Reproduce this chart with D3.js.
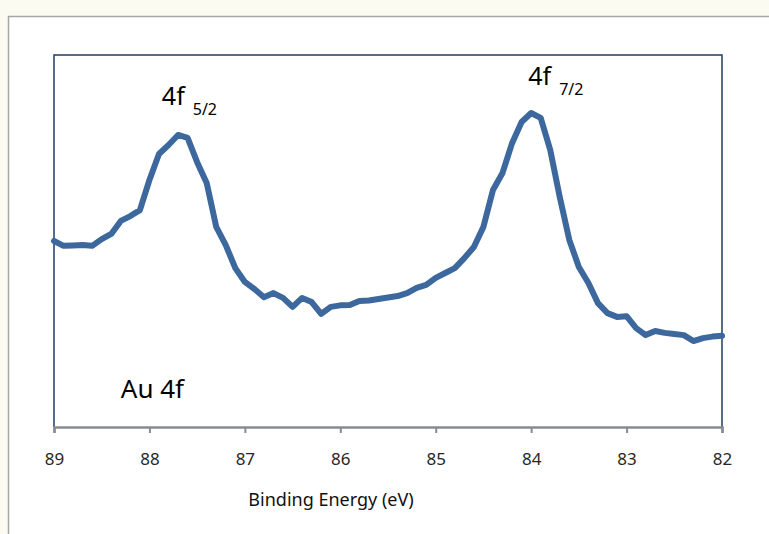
<!DOCTYPE html>
<html>
<head>
<meta charset="utf-8">
<script src="https://cdn.jsdelivr.net/npm/d3@7"></script>
<style>
  html, body { margin: 0; padding: 0; background: #ffffff; }
  svg { display: block; }
  text { font-family: "Noto Sans", "Open Sans", sans-serif; }
</style>
</head>
<body>
<svg id="chart" width="769" height="534"></svg>
<script>
// Binding energy (eV), 0.1 eV steps from 89.0 down to 82.0
const energies = d3.range(0, 71).map(i => +(89 - i * 0.1).toFixed(1));
// Intensity (arbitrary units)
const intensity = [
  50.0, 48.7, 48.8, 48.9, 48.7, 50.5, 51.9, 55.4, 56.7, 58.3,
  66.4, 73.4, 75.8, 78.5, 77.7, 71.2, 65.6, 53.8, 48.9, 42.7,
  39.0, 37.1, 34.9, 36.0, 34.7, 32.3, 34.7, 33.6, 30.4, 32.3,
  32.7, 32.8, 33.9, 34.0, 34.4, 34.8, 35.2, 36.0, 37.4, 38.2,
  40.1, 41.4, 42.7, 45.4, 48.4, 53.8, 63.7, 68.3, 76.3, 82.0,
  84.4, 83.1, 74.5, 61.8, 50.3, 43.0, 38.7, 33.3, 30.6, 29.6,
  29.8, 26.6, 24.7, 25.8, 25.3, 25.0, 24.7, 23.1, 23.9, 24.3,
  24.5
];
const xTicks = [89, 88, 87, 86, 85, 84, 83, 82];
const xTitle = "Binding Energy (eV)";
const peakLabels = [
  { main: "4f", sub: "5/2", e: 87.87, v: 86.6 },
  { main: "4f", sub: "7/2", e: 84.03, v: 91.9 }
];
const sampleLabel = { text: "Au 4f", e: 88.3, v: 7.7 };

const svg = d3.select("#chart");
const W = 769, H = 534;
const m = { left: 54, right: 722, top: 55, bottom: 427 };

// faint page tint outside the chart frame
svg.append("rect").attr("x", 0).attr("y", 0).attr("width", W).attr("height", H).attr("fill", "#fcfbf1");
svg.append("rect").attr("x", 8).attr("y", 16).attr("width", W - 8).attr("height", H - 16).attr("fill", "#ffffff");
// outer frame
svg.append("path")
  .attr("d", `M8.5,${H} L8.5,16.5 L${W},16.5`)
  .attr("fill", "none").attr("stroke", "#a6a6a6").attr("stroke-width", 1.5);

const x = d3.scaleLinear().domain([89, 82]).range([m.left, m.right]);
const y = d3.scaleLinear().domain([0, 100]).range([m.bottom, m.top]);

// plot border (left, top, right)
svg.append("path")
  .attr("d", `M${m.left},${m.bottom} L${m.left},${m.top} L${m.right},${m.top} L${m.right},${m.bottom}`)
  .attr("fill", "none").attr("stroke", "#1f3d66").attr("stroke-width", 1.5);

// x axis
const xAxis = d3.axisBottom(x).tickValues(xTicks).tickFormat(d3.format("d")).tickSize(6).tickPadding(20);
const gx = svg.append("g").attr("transform", `translate(0,${m.bottom})`).call(xAxis);
gx.attr("font-size", 17).attr("font-family", "'Noto Sans', sans-serif");
gx.select(".domain").attr("stroke", "#868b92").attr("stroke-width", 2.5);
gx.selectAll(".tick line").attr("stroke", "#868b92").attr("stroke-width", 2);
gx.selectAll(".tick text").attr("fill", "#262626").attr("font-size", 17).style("font-size", "17px");

svg.append("text")
  .attr("x", 331).attr("y", 506)
  .attr("text-anchor", "middle")
  .attr("fill", "#111")
  .style("font-size", "18px")
  .text(xTitle);

// spectrum line
const data = energies.map((e, i) => ({ e, v: intensity[i] }));
const line = d3.line().x(d => x(d.e)).y(d => y(d.v));
svg.append("path")
  .datum(data)
  .attr("d", line)
  .attr("fill", "none")
  .attr("stroke", "#3c689e")
  .attr("stroke-width", 6)
  .attr("stroke-linejoin", "round")
  .attr("stroke-linecap", "round");

// peak labels
peakLabels.forEach(p => {
  const t = svg.append("text")
    .attr("x", x(p.e)).attr("y", y(p.v))
    .attr("fill", "#000");
  t.append("tspan").style("font-size", "25px").text(p.main);
  t.append("tspan").attr("dx", 8).attr("dy", 10).style("font-size", "16px").text(p.sub);
});

svg.append("text")
  .attr("x", x(sampleLabel.e)).attr("y", y(sampleLabel.v))
  .attr("fill", "#000")
  .style("font-size", "26px")
  .text(sampleLabel.text);
</script>
</body>
</html>
